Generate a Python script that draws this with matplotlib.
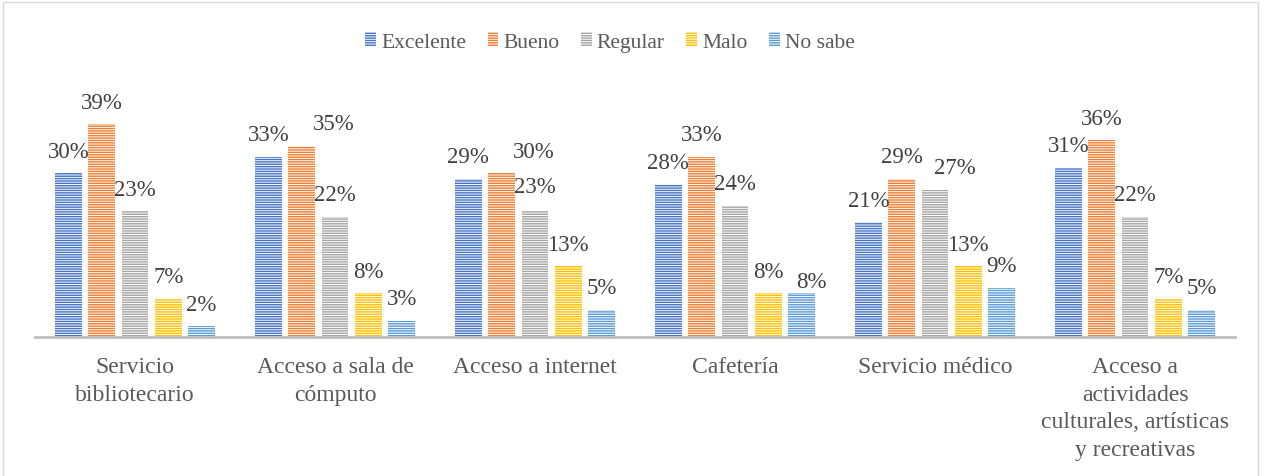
import matplotlib.pyplot as plt
import matplotlib.patches as mpatches
import numpy as np

# data
categories = ["Servicio\nbibliotecario", "Acceso a sala de\ncómputo", "Acceso a internet",
              "Cafetería", "Servicio médico",
              "Acceso a\nactividades\nculturales, artísticas\ny recreativas"]
series = ["Excelente", "Bueno", "Regular", "Malo", "No sabe"]
excelente = [30, 33, 29, 28, 21, 31]
bueno = [39, 35, 30, 33, 29, 36]
regular = [23, 22, 23, 24, 27, 22]
malo = [7, 8, 13, 8, 13, 7]
no_sabe = [2, 3, 5, 8, 9, 5]
colors = ["#4472C4", "#ED7D31", "#A5A5A5", "#FFC000", "#5B9BD5"]

# label nudges (pixels) where the labels were moved by hand
label_dx = [[0, 0, 0, 0, 0, 0],
            [0, 32, 32, 0, 0, 0],
            [0, 0, 0, 0, 20, 0],
            [0, 0, 0, 0, 0, 0],
            [0, 0, 0, 10, 0, 0]]
label_dy = [[0, 0, 0, 0, 0, 0],
            [0, 0, 0, 0, 0, 0],
            [0, 0, 3, 0, 0, 0],
            [0, 0, 0, 0, 0, 0],
            [0, 0, 0, -10, 0, 0]]

plt.rcParams['font.family'] = ['Liberation Serif', 'DejaVu Serif']
plt.rcParams['hatch.linewidth'] = 0.7
plt.rcParams['hatch.color'] = 'white'

fig = plt.figure(figsize=(12.66, 4.77), dpi=100)
ax = fig.add_axes([35 / 1266, 1 - 338 / 477, 1200 / 1266, 248 / 477])

x = np.arange(len(categories))
step = 1 / 6
width = 0.133
values = [excelente, bueno, regular, malo, no_sabe]
for i, (name, vals, c) in enumerate(zip(series, values, colors)):
    pos = x + (i - 2) * step
    ax.bar(pos, [v / 100 for v in vals], width, color=c, edgecolor='white',
           linewidth=0, hatch='-------', label=name)
    for j, (p, v) in enumerate(zip(pos, vals)):
        dx = label_dx[i][j] * 0.72
        dy = (22 + label_dy[i][j]) * 0.72
        ax.annotate(f"{v}%", (p, v / 100), xytext=(dx, dy), textcoords='offset points',
                    ha='center', va='center', fontsize=16.5, color='#404040')

ax.set_xlim(-0.5, len(categories) - 0.5)
ax.set_ylim(0, 248 / 546)
ax.set_xticks(x)
ax.set_xticklabels(categories, fontsize=17, color='#595959', linespacing=1.4)
ax.tick_params(axis='x', length=0, pad=14)
ax.set_yticks([])
for s in ['top', 'right', 'left']:
    ax.spines[s].set_visible(False)
ax.spines['bottom'].set_color('#bfbfbf')
ax.spines['bottom'].set_linewidth(2)

leg = fig.legend(loc='center', bbox_to_anchor=(610 / 1266, 1 - 43 / 477), ncol=5,
                 frameon=False, fontsize=15.5, handlelength=0.5, handleheight=0.65,
                 handletextpad=0.23, columnspacing=1.0)
for t in leg.get_texts():
    t.set_color('#595959')

# chart border
fig.patches.append(mpatches.Rectangle((3 / 1266, -0.02), 1255 / 1266, 1 - 3 / 477 + 0.02,
                                      transform=fig.transFigure, fill=False,
                                      edgecolor='#d9d9d9', linewidth=1))

fig.savefig("out.png", dpi=100)
